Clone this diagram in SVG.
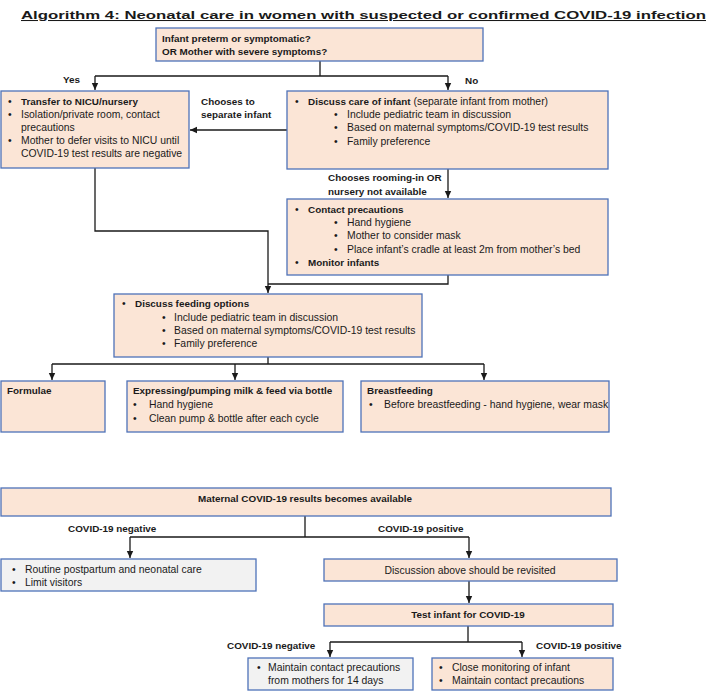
<svg xmlns="http://www.w3.org/2000/svg" width="709" height="694" viewBox="0 0 709 694">
<style>
text{font-family:"Liberation Sans",Arial,sans-serif;font-size:10.4px;fill:#1a1a1a}
.b{font-weight:bold;font-size:9.9px}
.box{fill:#fbe5d6;stroke:#4e72b8;stroke-width:1.3}
.gray{fill:#f2f2f2;stroke:#4e72b8;stroke-width:1.3}
.c{fill:none;stroke:#1a1a1a;stroke-width:1.3}
.m{text-anchor:middle}
</style>
<defs>
<marker id="ah" markerWidth="8" markerHeight="8" refX="7" refY="4" orient="auto" markerUnits="userSpaceOnUse">
<path d="M0,0.8 L7,4 L0,7.2 Z" fill="#1a1a1a"/>
</marker>
</defs>
<rect width="709" height="694" fill="#fff"/>
<text x="21" y="19" font-weight="bold" font-size="18.5" textLength="685" lengthAdjust="spacingAndGlyphs" text-decoration="underline">Algorithm 4: Neonatal care in women with suspected or confirmed COVID-19 infection</text>

<g id="connectors">
<path class="c" d="M320,61 V76 M95,76 H448"/>
<path class="c" d="M95,76 V90" marker-end="url(#ah)"/>
<path class="c" d="M448,76 V90" marker-end="url(#ah)"/>
<path class="c" d="M287,130 H190" marker-end="url(#ah)"/>
<path class="c" d="M448,169 V198" marker-end="url(#ah)"/>
<path class="c" d="M95,168 V231 H268 V293" marker-end="url(#ah)"/>
<path class="c" d="M448,275 V284 H268"/>
<path class="c" d="M268,357 V364 M52,364 H484"/>
<path class="c" d="M52,364 V380" marker-end="url(#ah)"/>
<path class="c" d="M235,364 V380" marker-end="url(#ah)"/>
<path class="c" d="M484,364 V380" marker-end="url(#ah)"/>
<path class="c" d="M305,516 V537 M130,537 H469"/>
<path class="c" d="M130,537 V558" marker-end="url(#ah)"/>
<path class="c" d="M469,537 V558" marker-end="url(#ah)"/>
<path class="c" d="M469,581 V603" marker-end="url(#ah)"/>
<path class="c" d="M468,626 V642 M330,642 H522"/>
<path class="c" d="M330,642 V657" marker-end="url(#ah)"/>
<path class="c" d="M522,642 V657" marker-end="url(#ah)"/>
<text class="b" x="63" y="82.5">Yes</text>
<text class="b" x="465" y="84">No</text>
<text class="b" x="201" y="104.5">Chooses to</text>
<text class="b" x="201" y="118">separate infant</text>
<text class="b" x="328" y="181">Chooses rooming-in OR</text>
<text class="b" x="328" y="195">nursery not available</text>
<text class="b" x="68" y="531.5">COVID-19 negative</text>
<text class="b" x="378" y="531.5">COVID-19 positive</text>
<text class="b" x="227" y="648.5">COVID-19 negative</text>
<text class="b" x="536" y="648.5">COVID-19 positive</text>
</g>

<g id="start">
<rect class="box" x="156" y="28" width="327" height="33"/>
<text class="b" x="162" y="42">Infant preterm or symptomatic?</text>
<text class="b" x="162" y="55">OR  Mother with severe symptoms?</text>
</g>

<g id="transfer">
<rect class="box" x="1" y="91" width="188" height="77"/>
<text x="8" y="105">•</text><text class="b" x="21" y="105">Transfer to NICU/nursery</text>
<text x="8" y="118">•</text><text x="21" y="118">Isolation/private room, contact</text>
<text x="21" y="131">precautions</text>
<text x="8" y="144">•</text><text x="21" y="144">Mother to defer visits to NICU until</text>
<text x="21" y="157">COVID-19 test results are negative</text>
</g>

<g id="discuss-care">
<rect class="box" x="287" y="91" width="321" height="78"/>
<text x="295" y="104.5">•</text><text x="308" y="104.5"><tspan class="b">Discuss care of infant</tspan> (separate infant from mother)</text>
<text x="334" y="118">•</text><text x="347" y="118">Include pediatric team in discussion</text>
<text x="334" y="131">•</text><text x="347" y="131">Based on maternal symptoms/COVID-19 test results</text>
<text x="334" y="144.5">•</text><text x="347" y="144.5">Family preference</text>
</g>

<g id="contact">
<rect class="box" x="287" y="199" width="321" height="76"/>
<text x="295" y="212.5">•</text><text class="b" x="308" y="212.5">Contact precautions</text>
<text x="334" y="226">•</text><text x="347" y="226">Hand hygiene</text>
<text x="334" y="239">•</text><text x="347" y="239">Mother to consider mask</text>
<text x="334" y="252.5">•</text><text x="347" y="252.5">Place infant’s cradle at least 2m from mother’s bed</text>
<text x="295" y="266">•</text><text class="b" x="308" y="266">Monitor infants</text>
</g>

<g id="feeding">
<rect class="box" x="114" y="294" width="308" height="63"/>
<text x="122" y="307">•</text><text class="b" x="135" y="307">Discuss feeding options</text>
<text x="162" y="321">•</text><text x="174" y="321">Include pediatric team in discussion</text>
<text x="162" y="334">•</text><text x="174" y="334">Based on maternal symptoms/COVID-19 test results</text>
<text x="162" y="347">•</text><text x="174" y="347">Family preference</text>
</g>

<g id="formulae">
<rect class="box" x="1" y="381" width="104" height="51"/>
<text class="b" x="7" y="394">Formulae</text>
</g>

<g id="expressing">
<rect class="box" x="127" y="381" width="216" height="51"/>
<text class="b" x="133" y="394">Expressing/pumping milk &amp; feed via bottle</text>
<text x="133" y="408">•</text><text x="149" y="408">Hand hygiene</text>
<text x="133" y="421.5">•</text><text x="149" y="421.5">Clean pump &amp; bottle after each cycle</text>
</g>

<g id="breastfeeding">
<rect class="box" x="361" y="381" width="248" height="51"/>
<text class="b" x="367" y="394">Breastfeeding</text>
<text x="369" y="408">•</text><text x="384" y="408">Before breastfeeding - hand hygiene, wear mask</text>
</g>

<g id="maternal">
<rect class="box" x="1" y="488" width="610" height="28"/>
<text class="b m" x="305" y="502">Maternal COVID-19 results becomes available</text>
</g>

<g id="routine">
<rect class="gray" x="1" y="559" width="255" height="32"/>
<text x="12" y="573">•</text><text x="25" y="573">Routine postpartum and neonatal care</text>
<text x="12" y="586">•</text><text x="25" y="586">Limit visitors</text>
</g>

<g id="revisit">
<rect class="box" x="324" y="559" width="293" height="22"/>
<text class="m" x="470" y="573.5">Discussion above should be revisited</text>
</g>

<g id="test-infant">
<rect class="box" x="324" y="604" width="289" height="22"/>
<text class="b m" x="468" y="618">Test infant for COVID-19</text>
</g>

<g id="infant-negative">
<rect class="gray" x="248" y="658" width="165" height="32"/>
<text x="257" y="671">•</text><text x="268" y="671">Maintain contact precautions</text>
<text x="268" y="684">from mothers for 14 days</text>
</g>

<g id="infant-positive">
<rect class="box" x="432" y="658" width="181" height="32"/>
<text x="439" y="671">•</text><text x="452" y="671">Close monitoring of infant</text>
<text x="439" y="684">•</text><text x="452" y="684">Maintain contact precautions</text>
</g>
</svg>
